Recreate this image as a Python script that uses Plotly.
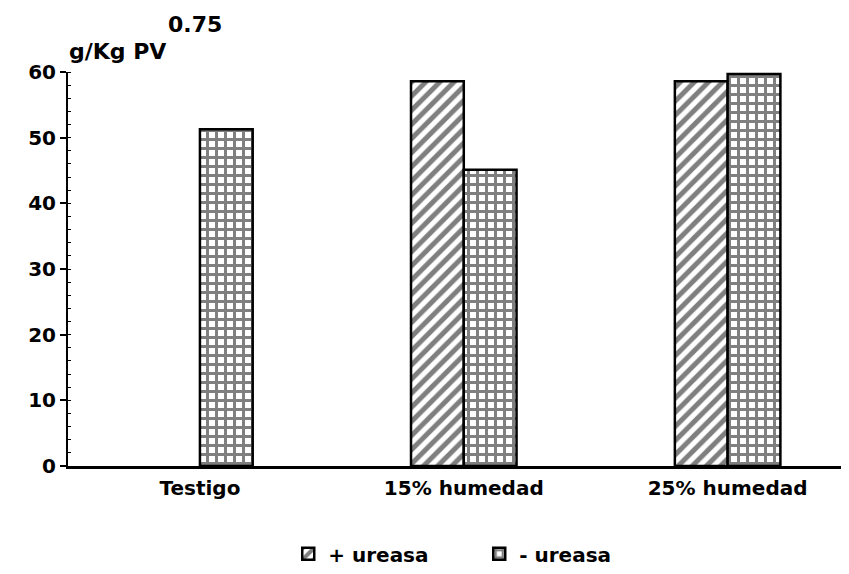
import plotly.graph_objects as go

categories = ["Testigo", "15% humedad", "25% humedad"]
plus_ureasa = [None, 58.6, 58.6]
minus_ureasa = [51.3, 45.1, 59.7]
series_names = ["+ ureasa", "- ureasa"]
y_ticks = [0, 10, 20, 30, 40, 50, 60]

FONT = "DejaVu Sans"

fig = go.Figure()
fig.add_trace(go.Bar(
    x=categories, y=plus_ureasa, name=series_names[0],
    marker=dict(color="white", line=dict(color="black", width=2.5),
                pattern=dict(shape="/", fgcolor="black", bgcolor="white", size=10, solidity=0.5)),
))
fig.add_trace(go.Bar(
    x=categories, y=minus_ureasa, name=series_names[1],
    marker=dict(color="white", line=dict(color="black", width=2.5),
                pattern=dict(shape="+", fgcolor="black", bgcolor="white", size=9, solidity=0.55)),
))

fig.update_layout(
    width=849, height=574,
    paper_bgcolor="white", plot_bgcolor="white",
    margin=dict(l=60, r=8, t=64, b=116, autoexpand=False),
    barmode="group", bargap=0.6, bargroupgap=0,
    font=dict(family=FONT, size=20, color="black"),
    showlegend=True,
    legend=dict(orientation="h", x=0.282, xanchor="left", y=-0.223, yanchor="middle",
                font=dict(family=FONT, size=20, color="black", weight="bold"),
                entrywidth=146, entrywidthmode="pixels", traceorder="normal"),
    xaxis=dict(range=[-0.5, 2.46], showline=True, linecolor="black", linewidth=2.5,
               ticks="", tickfont=dict(family=FONT, size=20, weight="bold"), showgrid=False,
               zeroline=False, automargin=False, ticklabelstandoff=2),
    yaxis=dict(range=[0, 60], showline=True, linecolor="black", linewidth=2,
               tickvals=y_ticks, ticks="outside", ticklen=6, tickwidth=1.5, tickcolor="black",
               tickfont=dict(family=FONT, size=20, weight="bold"), showgrid=False, zeroline=False,
               automargin=False,
               minor=dict(dtick=2, ticks="inside", ticklen=3, tickcolor="black", tickwidth=1)),
)

fig.add_annotation(text="g/Kg PV", xref="paper", yref="paper", x=0, y=1.0, xanchor="left",
                   yanchor="bottom", yshift=6, xshift=-1, showarrow=False,
                   font=dict(family=FONT, size=22, weight="bold"))
fig.add_annotation(text="0.75", xref="paper", yref="paper", x=0, y=1.0, xanchor="left",
                   yanchor="bottom", yshift=33, xshift=98, showarrow=False,
                   font=dict(family=FONT, size=22, weight="bold"))

fig.write_html("out.html")
